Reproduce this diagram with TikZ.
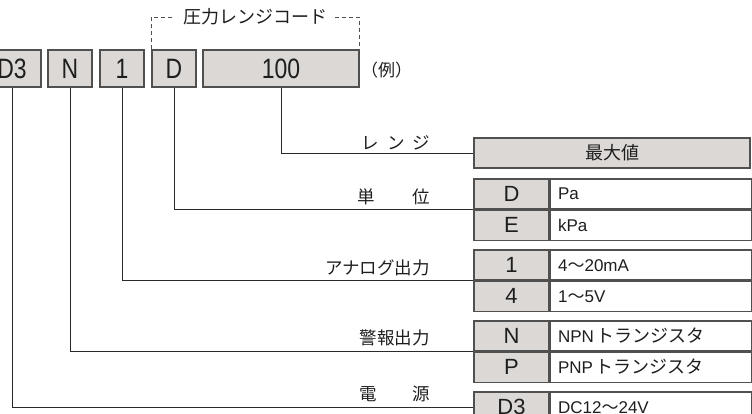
\documentclass[tikz,border=0pt]{standalone}
\usepackage{fontspec}
\setmainfont{Liberation Sans}
\newfontfamily\jp{Noto Sans CJK JP}
\newfontfamily\cond{Liberation Sans}[FakeStretch=0.82]
\usetikzlibrary{positioning}
\definecolor{boxgray}{HTML}{DCD8D6}
\definecolor{edgegray}{HTML}{505050}
\definecolor{leadgray}{HTML}{2A2A2A}
\definecolor{inkgray}{HTML}{1E1E1E}

\begin{document}
\begin{tikzpicture}[x=1pt,y=-1pt,text=inkgray,
    topbox/.style={draw=edgegray,line width=1.1pt,fill=boxgray,minimum width=44pt,minimum height=37pt,
      inner sep=0pt,text height=20pt,text depth=0pt,font=\cond\fontsize{28}{28}\selectfont},
    keybox/.style={draw=edgegray,line width=1.1pt,fill=boxgray,minimum width=75pt,minimum height=30pt,
      inner sep=0pt,text height=15.5pt,text depth=0pt,font=\fontsize{22}{22}\selectfont},
    descbox/.style={draw=edgegray,line width=1.1pt,fill=white,text width=185pt,inner xsep=8pt,inner ysep=0pt,
      minimum height=30pt,align=left,text height=12pt,text depth=0pt,font=\fontsize{17}{17}\selectfont},
    itemlbl/.style={anchor=east,inner sep=0pt,font=\jp\fontsize{17.5}{17.5}\selectfont},
    lead/.style={draw=leadgray,line width=0.9pt},
    bracket/.style={draw=edgegray,line width=0.8pt,dash pattern=on 4pt off 3pt}]

  \useasboundingbox (0,0) rectangle (752,414);

  %MODEL CODE
  \node[topbox,minimum width=58pt] (tD3) at (12,68.5) {D3};
  \node[topbox] (tN) at (70,68.5) {N};
  \node[topbox] (t1) at (122,68.5) {1};
  \node[topbox] (tD) at (174,68.5) {D};
  \node[topbox,minimum width=156pt] (t100) at (281,68.5) {100};
  \node[anchor=west,inner sep=0pt,font=\jp\fontsize{17}{17}\selectfont] (ex) at (361,70) {（例）};

  \node[inner xsep=8pt,inner ysep=0pt,font=\jp\fontsize{18}{18}\selectfont] (rc) at (255,17) {圧力レンジコード};
  \draw[bracket] (tD.north west) |- (rc.west);
  \draw[bracket] (rc.east) -| (t100.north east);

  %RANGE
  \node[keybox,minimum width=276pt,text height=15pt,text depth=2pt,font=\jp\fontsize{18}{18}\selectfont] (rng) at (612,153) {最大値};
  \node[itemlbl] (lrng) at (430,143) {\makebox[68pt][s]{レ\hfill ン\hfill ジ}};

  %UNIT
  \node[keybox] (uD) at (511.5,194) {D};
  \node[descbox,right=0pt of uD] (uDd) {Pa};
  \node[keybox,below=0pt of uD] (uE) {E};
  \node[descbox,right=0pt of uE] (uEd) {kPa};
  \node[itemlbl] (lunit) at (430,197) {\makebox[72pt][s]{単\hfill 位}};

  %ANALOG OUTPUT
  \node[keybox] (a1) at (511.5,265) {1};
  \node[descbox,right=0pt of a1] (a1d) {4{\jp ～}20mA};
  \node[keybox,below=0pt of a1] (a4) {4};
  \node[descbox,right=0pt of a4] (a4d) {1{\jp ～}5V};
  \node[itemlbl] (lana) at (430,268) {アナログ出力};

  %ALARM OUTPUT
  \node[keybox] (aN) at (511.5,336) {N};
  \node[descbox,right=0pt of aN] (aNd) {NPN\,{\jp\fontsize{18}{18}\selectfont トランジスタ}};
  \node[keybox,below=0pt of aN] (aP) {P};
  \node[descbox,right=0pt of aP] (aPd) {PNP\,{\jp\fontsize{18}{18}\selectfont トランジスタ}};
  \node[itemlbl] (lalm) at (430,338) {警報出力};

  %POWER
  \node[keybox] (pD3) at (511.5,407) {D3};
  \node[descbox,right=0pt of pD3] (pD3d) {DC12{\jp ～}24V};
  \node[itemlbl] (lpow) at (430,394) {\makebox[70pt][s]{電\hfill 源}};

  %LEADS
  \draw[lead] (t100.south) |- (rng.west);
  \draw[lead] (tD.south) |- (uD.south west);
  \draw[lead] (t1.south) |- (a1.south west);
  \draw[lead] (tN.south) |- (aN.south west);
  \draw[lead] (tD3.south) |- (pD3.west);

\end{tikzpicture}
\end{document}
